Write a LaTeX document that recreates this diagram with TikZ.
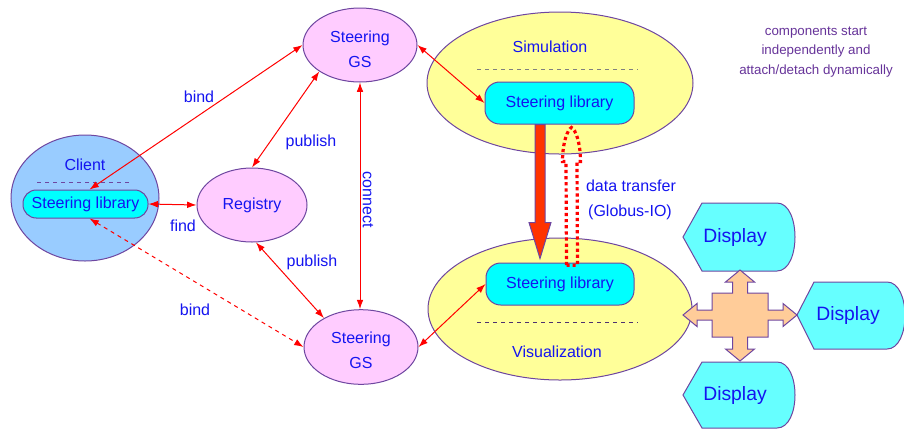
\documentclass[tikz,border=0pt]{standalone}
\usepackage{fontspec}
\setmainfont{Liberation Sans}
\usetikzlibrary{shapes.geometric,arrows.meta,calc}
\tikzset{every picture/.style={line width=0.75pt}}
\definecolor{outl}{RGB}{110,70,160}
\definecolor{clientblue}{RGB}{153,204,255}
\definecolor{gspink}{RGB}{255,204,255}
\definecolor{simyellow}{RGB}{255,255,153}
\definecolor{libcyan}{RGB}{0,255,255}
\definecolor{dispcyan}{RGB}{102,255,255}
\definecolor{peach}{RGB}{255,204,153}
\definecolor{flowred}{RGB}{255,51,0}
\definecolor{txtblue}{RGB}{20,20,240}
\definecolor{notepurple}{RGB}{102,51,153}
\tikzset{
  blob/.style={ellipse, draw=outl, inner sep=0pt},
  lib/.style={draw=outl, fill=libcyan, rounded corners=11pt, inner sep=0pt},
  link/.style={red, line width=0.75pt, {Latex[length=7pt,width=5pt]}-{Latex[length=7pt,width=5pt]}},
  dispshape/.style={draw=outl, fill=dispcyan},
}

\begin{document}
\begin{tikzpicture}[x=0.75pt,y=0.75pt,yscale=-1,xscale=1,
  font=\fontsize{12}{18.5}\selectfont,
  every node/.style={text=txtblue}]
\useasboundingbox (0,0) rectangle (904,430);

%Shape: Ellipse [client]
\node[blob, fill=clientblue, minimum width=111pt, minimum height=94.5pt] (client) at (85,198) {};
% Text Node
\node (clientname) at (85,165) {Client};
\draw[outl, dashed] (37,182) -- (130,182);
\node[lib, minimum width=93.75pt, minimum height=21pt, rounded corners=10pt] (clientlib) at (85.5,204) {Steering library};

%Shape: Ellipse [registry]
\node[blob, fill=gspink, minimum width=82.5pt, minimum height=55.5pt] (registry) at (252,205) {Registry};

%Shape: Ellipse [steering GS]
\node[blob, fill=gspink, minimum width=85.5pt, minimum height=55.5pt] (gstop) at (360,45) {};
\node[align=center] (gstopname) at (360,49.5) {Steering\\GS};
\node[blob, fill=gspink, minimum width=85.5pt, minimum height=56pt] (gsbot) at (361,347) {};
\node[align=center] (gsbotname) at (361,350) {Steering\\GS};

%Shape: Ellipse [simulation]
\node[blob, fill=simyellow, minimum width=199.5pt, minimum height=106.5pt] (sim) at (560,83) {};
% Text Node
\node (simname) at (550,47) {Simulation};
\draw[gray, dashed] (477,69) -- (638,69);
\node[lib, minimum width=111.75pt, minimum height=31.5pt] (simlib) at (559.5,103) {Steering library};

%Shape: Ellipse [visualization]
\node[blob, fill=simyellow, minimum width=198pt, minimum height=106.5pt] (vis) at (560,309) {};
% Text Node
\node (visname) at (557,352) {Visualization};
\draw[outl!70!black, dashed] (477,322) -- (638,322);
\node[lib, minimum width=111pt, minimum height=31.5pt] (vislib) at (560,284) {Steering library};

%Thick arrow sim -> vis
\coordinate (flowS) at ([xshift=-14.6pt]simlib.south);
\coordinate (flowE) at ([xshift=-15pt,yshift=-3pt]vislib.north);
\draw[outl, fill=flowred] ($(flowS)+(-5,0)$) -- ($(flowE)+(-5,-36)$) -- ($(flowE)+(-11,-36)$) -- (flowE)
  -- ($(flowE)+(11,-36)$) -- ($(flowE)+(5,-36)$) -- ($(flowS)+(5,0)$) -- cycle;

%Dotted arrow vis -> sim
\coordinate (backS) at ([xshift=9pt,yshift=2pt]vislib.north);
\coordinate (backE) at ([xshift=9pt,yshift=2.25pt]simlib.south);
\draw[red, line width=2.4pt, dash pattern=on 2.4pt off 2.2pt]
  ($(backS)+(-5.5,0)$) -- ($(backE)+(-5.5,34)$) -- ($(backE)+(-9,34)$)
  .. controls ($(backE)+(-9,15)$) and ($(backE)+(-4,2)$) .. (backE)
  .. controls ($(backE)+(4,2)$) and ($(backE)+(9,15)$) .. ($(backE)+(9,34)$)
  -- ($(backE)+(5.5,34)$) -- ($(backS)+(5.5,0)$) -- cycle;
% Text Node
\node (xfer) at (631,186) {data transfer};
\node (globus) at (630,212) {(Globus-IO)};

%Shape: Displays
\begin{scope}[shift={(735,237)}]
\draw[dispshape] (-52,0) -- (-33,-34) -- (42,-34) .. controls (66,-34) and (66,34) .. (42,34) -- (-33,34) -- cycle;
\end{scope}
\begin{scope}[shift={(848,315)}]
\draw[dispshape] (-51,0) -- (-34,-33) -- (39,-33) .. controls (63,-33) and (63,34) .. (39,34) -- (-34,34) -- cycle;
\end{scope}
\begin{scope}[shift={(735,395)}]
\draw[dispshape] (-52,0) -- (-33,-33) -- (42,-33) .. controls (66,-33) and (66,33) .. (42,33) -- (-33,33) -- cycle;
\end{scope}
\node[font=\fontsize{14.5}{17}\selectfont] (disp1) at (735,237) {Display};
\node[font=\fontsize{14.5}{17}\selectfont] (disp2) at (848,315) {Display};
\node[font=\fontsize{14.5}{17}\selectfont] (disp3) at (735,395) {Display};

%Shape: Cross arrow
\begin{scope}[shift={(740,315)}]
\draw[outl, fill=peach] (-28,-22) -- (-7.5,-22) -- (-7.5,-33) -- (-14.5,-33) -- (0,-45) -- (14.5,-33) -- (7.5,-33)
  -- (7.5,-22) -- (28,-22) -- (28,-5) -- (43,-5) -- (43,-11.5) -- (57,0) -- (43,11.5) -- (43,5) -- (28,5)
  -- (28,22) -- (7.5,22) -- (7.5,34) -- (14.5,34) -- (0,46) -- (-14.5,34) -- (-7.5,34) -- (-7.5,22)
  -- (-28,22) -- (-28,5) -- (-43,5) -- (-43,11.5) -- (-57,0) -- (-43,-11.5) -- (-43,-5) -- (-28,-5) -- cycle;
\end{scope}

% Text Node
\node[text=notepurple, font=\fontsize{10}{14.6}\selectfont, align=center] (note) at (816,52) {components start\\independently and\\attach/detach dynamically};

%Straight Lines
\draw[link] (gstop.west) -- ([xshift=3pt]clientlib.north);
\draw[link, dashed] ([xshift=3pt]clientlib.south) -- (gsbot.west);
\draw[link] (clientlib.east) -- (registry.west);
\draw[link] (registry.north) -- (gstop.213);
\draw[link] (registry.-84) -- (gsbot.142);
\draw[link] (gstop.south) -- (gstop.south |- gsbot.north);
\draw[link] (gstop.east) -- (simlib.west);
\draw[link] (gsbot.east) -- (vislib.west);

% Text Node
\node (bindup) at (199,97) {bind};
\node (pubup) at (311,142) {publish};
\node (find) at (183,226) {find};
\node (publow) at (312,262) {publish};
\node (bindlow) at (195,310) {bind};
\node[rotate=-90] (connect) at (368,200) {connect};
\end{tikzpicture}
\end{document}
